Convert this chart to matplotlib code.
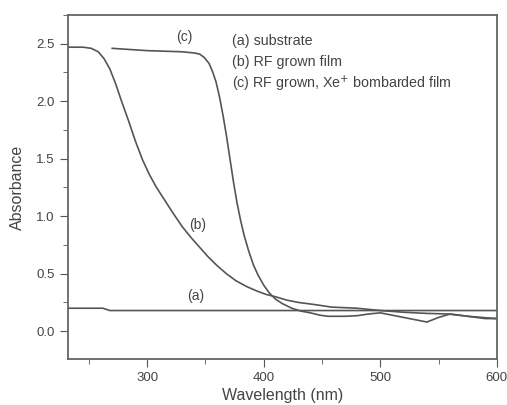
import matplotlib.pyplot as plt
from matplotlib.ticker import MultipleLocator

plt.rcParams['font.family'] = ['Liberation Sans', 'DejaVu Sans']

# (a) substrate
wl_a = [232, 262, 268, 600]
ab_a = [0.20, 0.20, 0.18, 0.18]

# (b) RF grown film
wl_b = [232, 245, 252, 258, 263, 268, 273, 278, 284, 290, 296, 302, 308, 315, 322,
        330, 338, 345, 352, 360, 368, 376, 385, 394, 402, 410, 420, 430, 445, 458,
        480, 500, 520, 540, 558, 575, 587, 600]
ab_b = [2.47, 2.47, 2.46, 2.43, 2.37, 2.28, 2.15, 2.00, 1.83, 1.65, 1.49, 1.36, 1.25,
        1.14, 1.03, 0.91, 0.81, 0.73, 0.65, 0.57, 0.50, 0.44, 0.39, 0.35, 0.32, 0.30,
        0.27, 0.25, 0.23, 0.21, 0.20, 0.18, 0.165, 0.155, 0.15, 0.13, 0.12, 0.11]

# (c) RF grown, Xe+ bombarded film
wl_c = [270, 300, 330, 340, 345, 349, 353, 356, 359, 362, 365, 368, 371, 374, 377,
        380, 383, 387, 391, 395, 400, 405, 410, 416, 424, 432, 440, 448, 455, 470,
        480, 490, 500, 515, 530, 540, 550, 560, 575, 590, 600]
ab_c = [2.46, 2.44, 2.43, 2.42, 2.41, 2.38, 2.33, 2.26, 2.17, 2.04, 1.88, 1.70, 1.50,
        1.30, 1.12, 0.97, 0.84, 0.70, 0.58, 0.49, 0.40, 0.33, 0.28, 0.24, 0.20, 0.175,
        0.16, 0.14, 0.13, 0.13, 0.135, 0.15, 0.16, 0.13, 0.10, 0.08, 0.12, 0.15, 0.13,
        0.11, 0.11]

legend_lines = ['(a) substrate', '(b) RF grown film', '(c) RF grown, Xe$^{+}$ bombarded film']

txt = '#444444'
fig = plt.figure(figsize=(5.07, 4.05), dpi=100)
ax = fig.add_axes([0.134, 0.114, 0.846, 0.849])

for x, y in [(wl_a, ab_a), (wl_b, ab_b), (wl_c, ab_c)]:
    ax.plot(x, y, color='#555555', lw=1.2)

ax.set_xlim(232, 600)
ax.set_ylim(-0.24, 2.75)
ax.xaxis.set_major_locator(MultipleLocator(100))
ax.xaxis.set_minor_locator(MultipleLocator(50))
ax.yaxis.set_major_locator(MultipleLocator(0.5))
ax.yaxis.set_minor_locator(MultipleLocator(0.25))
ax.tick_params(which='both', direction='out', colors='#555555', labelcolor=txt,
               labelsize=9.5, top=False, right=False)
ax.tick_params(which='major', length=6)
ax.tick_params(which='minor', length=3.5)
for s in ax.spines.values():
    s.set_color('#666666')
    s.set_linewidth(1.3)

ax.set_xlabel('Wavelength (nm)', fontsize=11.5, color=txt, labelpad=3)
ax.set_ylabel('Absorbance', fontsize=11.5, color=txt, labelpad=8)

ax.text(332, 2.56, '(c)', fontsize=10, color=txt, ha='center', va='center')
ax.text(343, 0.92, '(b)', fontsize=10, color=txt, ha='center', va='center')
ax.text(342, 0.31, '(a)', fontsize=10, color=txt, ha='center', va='center')

for i, s in enumerate(legend_lines):
    ax.text(0.382, 0.924 - i * 0.062, s, transform=ax.transAxes, fontsize=10.3,
            color=txt, ha='left', va='center')

fig.savefig('out.png', dpi=100)
